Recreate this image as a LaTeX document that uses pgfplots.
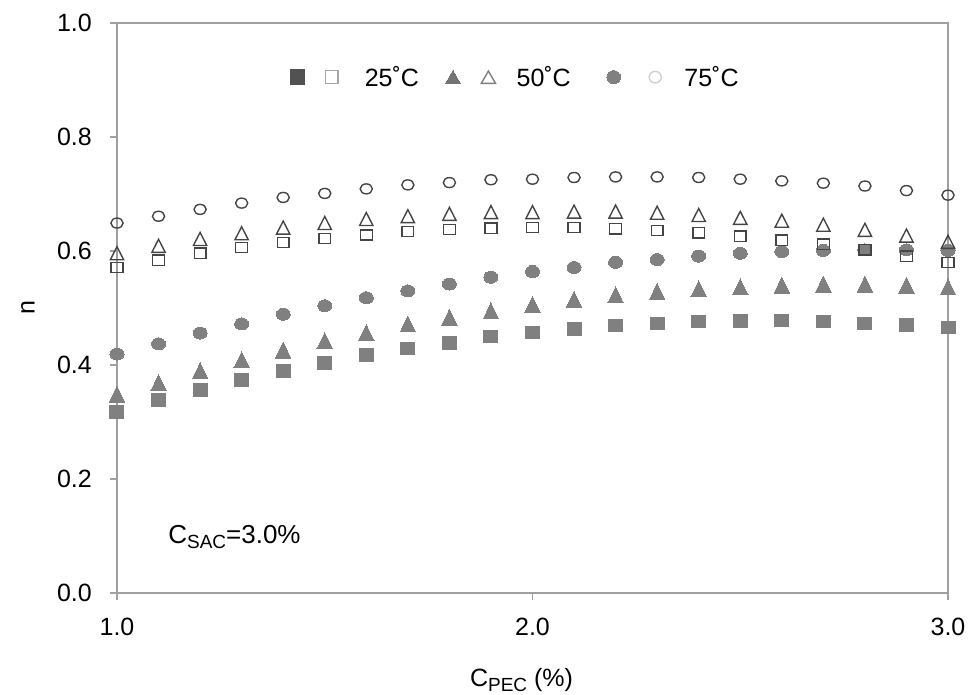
\documentclass[border=0pt]{standalone}
\usepackage{fontspec}
\setmainfont{Liberation Sans}
\usepackage{pgfplots}
\usepackage{pgfplotstable}
\pgfplotsset{compat=1.18}
\definecolor{fillgray}{HTML}{808080}
\definecolor{edgegray}{HTML}{454545}
\definecolor{axgray}{HTML}{A0A0A0}

\pgfplotstableread{
x   fs    os    ft    ot    fc    oc
1.0 0.318 0.571 0.349 0.596 0.419 0.649
1.1 0.339 0.584 0.369 0.609 0.437 0.661
1.2 0.356 0.596 0.390 0.621 0.456 0.673
1.3 0.374 0.606 0.409 0.631 0.472 0.684
1.4 0.390 0.615 0.426 0.641 0.489 0.694
1.5 0.404 0.622 0.443 0.649 0.504 0.701
1.6 0.418 0.628 0.457 0.656 0.518 0.709
1.7 0.429 0.634 0.472 0.661 0.530 0.716
1.8 0.439 0.638 0.484 0.665 0.542 0.720
1.9 0.450 0.640 0.495 0.668 0.554 0.725
2.0 0.457 0.641 0.506 0.668 0.564 0.726
2.1 0.463 0.641 0.515 0.669 0.571 0.729
2.2 0.469 0.639 0.523 0.669 0.580 0.730
2.3 0.473 0.636 0.529 0.667 0.585 0.730
2.4 0.476 0.632 0.534 0.663 0.591 0.729
2.5 0.477 0.626 0.537 0.658 0.596 0.726
2.6 0.478 0.619 0.540 0.653 0.599 0.723
2.7 0.476 0.612 0.542 0.646 0.601 0.719
2.8 0.473 0.602 0.542 0.637 0.602 0.714
2.9 0.470 0.591 0.540 0.627 0.602 0.706
3.0 0.466 0.580 0.537 0.616 0.601 0.698
}\data

\pgfplotsset{
  fsq/.style={only marks, mark=square*, mark size=7pt, mark options={fill=fillgray, draw=fillgray, line width=0pt, yscale=0.9}},
  osq/.style={only marks, mark=square, mark size=5.9pt, mark options={draw=edgegray, fill=none, line width=1.4pt, yscale=0.87}},
  ftr/.style={only marks, mark=triangle*, mark size=9pt, mark options={fill=fillgray, draw=fillgray, line width=0pt, yshift=-2.66pt, yscale=1.18}},
  otr/.style={only marks, mark=triangle, mark size=7.7pt, mark options={draw=edgegray, fill=none, line width=1.4pt, yshift=-2.1pt, yscale=1.13}},
  fci/.style={only marks, mark=*, mark size=6pt, mark options={fill=fillgray, draw=fillgray, line width=0pt, xscale=1.17}},
  oci/.style={only marks, mark=o, mark size=5pt, mark options={draw=edgegray, fill=none, line width=1.4pt, xscale=1.22}},
}

\newcommand{\bigfont}{\fontsize{25pt}{30pt}\selectfont}
\newcommand{\sub}[1]{\raisebox{-5pt}{\fontsize{19pt}{20pt}\selectfont #1}}

\begin{document}
\begin{tikzpicture}
\begin{axis}[
  name=ax,
  scale only axis,
  axis on top,
  width=831pt, height=570pt,
  xmin=1, xmax=3, ymin=0, ymax=1,
  xtick={1,2,3},
  ytick={0,0.2,0.4,0.6,0.8,1.0},
  xticklabel={\pgfmathprintnumber[fixed,fixed zerofill,precision=1,assume math mode=true]{\tick}},
  yticklabel={\pgfmathprintnumber[fixed,fixed zerofill,precision=1,assume math mode=true]{\tick}},
  tick pos=left,
  tick align=outside,
  major tick length=7pt,
  axis line style={draw=axgray, line width=2pt},
  every tick/.style={draw=axgray, line width=1.5pt},
  tick label style={font=\bigfont, text=black},
  xticklabel style={inner sep=0pt, anchor=north, yshift=-18pt},
  yticklabel style={inner sep=0pt, anchor=east, xshift=-18pt},
  xlabel={C\sub{PEC} (\%)},
  ylabel={n},
  label style={font=\bigfont},
  xlabel style={at={(axis description cs:0.5,0)}, anchor=base, yshift=-93pt, xshift=-11pt, inner sep=0pt},
  ylabel style={at={(axis description cs:-0.1071,0.5)}, anchor=center, inner sep=0pt},
  legend columns=6,
  legend image code/.code={\path (-8pt,0pt) (8pt,0pt); \draw[#1] plot coordinates {(0pt,0pt)};},
  legend style={at={(0.207,0.905)}, anchor=west, draw=none, fill=none,
    inner sep=0pt, outer sep=0pt, font=\bigfont,
    nodes={inner sep=0pt},
    /tikz/column 1/.style={column sep=0pt},
    /tikz/column 2/.style={column sep=17pt},
    /tikz/column 3/.style={column sep=25pt},
    /tikz/column 4/.style={column sep=25pt},
    /tikz/column 5/.style={column sep=0pt},
    /tikz/column 6/.style={column sep=18pt},
    /tikz/column 7/.style={column sep=20pt},
    /tikz/column 8/.style={column sep=34pt},
    /tikz/column 9/.style={column sep=0pt},
    /tikz/column 10/.style={column sep=24pt},
    /tikz/column 11/.style={column sep=21pt},
  },
]
\addplot[fsq, forget plot] table[x=x, y=fs] {\data};
\addplot[ftr, forget plot] table[x=x, y=ft] {\data};
\addplot[fci, forget plot] table[x=x, y=fc] {\data};
\addplot[oci, forget plot] table[x=x, y=oc] {\data};
\addplot[otr, forget plot] table[x=x, y=ot] {\data};
\addplot[osq, forget plot] table[x=x, y=os] {\data};

\addlegendimage{only marks, mark=square*, mark size=7pt, mark options={fill=black!68, draw=black!68, line width=0pt, yscale=1.1}}
\addlegendentry{}
\addlegendimage{only marks, mark=square, mark size=6.2pt, mark options={draw=black!35, fill=none, line width=1.4pt, yscale=1.05}}
\addlegendentry{\makebox[55pt][l]{25˚C}}
\addlegendimage{only marks, mark=triangle*, mark size=9pt, mark options={fill=black!55, draw=black!55, line width=0pt, yshift=-2.3pt}}
\addlegendentry{}
\addlegendimage{only marks, mark=triangle, mark size=8.2pt, mark options={draw=black!50, fill=none, line width=1.4pt, yshift=-2.1pt}}
\addlegendentry{\makebox[55pt][l]{50˚C}}
\addlegendimage{only marks, mark=*, mark size=6.5pt, mark options={fill=black!50, draw=black!50, line width=0pt, xscale=1.05}}
\addlegendentry{}
\addlegendimage{only marks, mark=o, mark size=5.8pt, mark options={draw=black!18, fill=none, line width=1.4pt, xscale=1.05}}
\addlegendentry{\makebox[55pt][l]{75˚C}}

\node[anchor=base west, font=\fontsize{26pt}{30pt}\selectfont, inner sep=0pt] at (axis cs:1.123,0.0877) {C\sub{SAC}=3.0\%};
\end{axis}
\pgfresetboundingbox
\path ([shift={(-117pt,-101pt)}]ax.south west) rectangle ++(969pt,694pt);
\end{tikzpicture}
\end{document}
